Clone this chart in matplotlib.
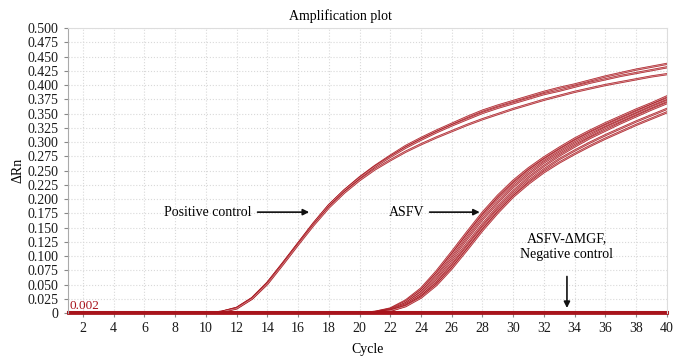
import numpy as np
import matplotlib
matplotlib.use("Agg")
import matplotlib.pyplot as plt

plt.rcParams['font.family'] = ['Liberation Serif', 'DejaVu Serif']

cycles = list(range(1, 41))

# positive control replicates (delta Rn per cycle 1..40)
pc_1 = [0, 0, 0, 0, 0, 0, 0, 0, 0, 0,
        0.002, 0.009, 0.026, 0.053, 0.087, 0.122, 0.157, 0.189, 0.215, 0.238,
        0.258, 0.276, 0.293, 0.307, 0.320, 0.332, 0.344, 0.355, 0.364, 0.372,
        0.380, 0.388, 0.395, 0.401, 0.408, 0.415, 0.421, 0.427, 0.432, 0.437]
pc_2 = [0, 0, 0, 0, 0, 0, 0, 0, 0, 0,
        0.002, 0.009, 0.026, 0.053, 0.087, 0.122, 0.157, 0.189, 0.215, 0.237,
        0.257, 0.274, 0.290, 0.304, 0.317, 0.329, 0.340, 0.351, 0.360, 0.368,
        0.376, 0.384, 0.390, 0.397, 0.404, 0.410, 0.416, 0.421, 0.426, 0.431]
pc_3 = [0, 0, 0, 0, 0, 0, 0, 0, 0, 0,
        0.002, 0.008, 0.025, 0.051, 0.085, 0.120, 0.154, 0.185, 0.211, 0.233,
        0.252, 0.268, 0.283, 0.296, 0.308, 0.319, 0.330, 0.340, 0.349, 0.358,
        0.366, 0.374, 0.381, 0.388, 0.394, 0.400, 0.405, 0.410, 0.415, 0.419]

# ASFV sample replicates
asfv_1 = [0] * 20 + [0.002, 0.008, 0.022, 0.043, 0.073, 0.107, 0.142, 0.176, 0.206, 0.232,
                     0.254, 0.273, 0.290, 0.306, 0.320, 0.333, 0.345, 0.357, 0.368, 0.380]
asfv_2 = [0] * 20 + [0.002, 0.007, 0.020, 0.040, 0.069, 0.102, 0.137, 0.171, 0.201, 0.227,
                     0.250, 0.269, 0.286, 0.302, 0.316, 0.329, 0.341, 0.353, 0.365, 0.376]
asfv_3 = [0] * 20 + [0.001, 0.006, 0.017, 0.036, 0.063, 0.095, 0.130, 0.164, 0.194, 0.221,
                     0.244, 0.264, 0.281, 0.297, 0.311, 0.325, 0.337, 0.349, 0.361, 0.372]
asfv_4 = [0] * 20 + [0.001, 0.005, 0.015, 0.032, 0.057, 0.088, 0.122, 0.156, 0.187, 0.214,
                     0.238, 0.258, 0.276, 0.292, 0.307, 0.320, 0.333, 0.345, 0.357, 0.368]
asfv_5 = [0] * 20 + [0.001, 0.004, 0.013, 0.029, 0.052, 0.082, 0.116, 0.150, 0.181, 0.208,
                     0.232, 0.252, 0.270, 0.285, 0.299, 0.312, 0.324, 0.336, 0.347, 0.358]
asfv_6 = [0] * 20 + [0.001, 0.004, 0.012, 0.027, 0.049, 0.078, 0.111, 0.145, 0.176, 0.204,
                     0.227, 0.247, 0.264, 0.279, 0.293, 0.306, 0.318, 0.330, 0.341, 0.352]

# ASFV-dMGF and negative control stay flat
neg_1 = [0] * 40

threshold = 0.002

red = '#a8141c'
fig = plt.figure(figsize=(7, 3.59), dpi=100)
ax = fig.add_axes([0.0966, 0.128, 0.856, 0.794])

for ys in [pc_1, pc_2, pc_3, asfv_1, asfv_2, asfv_3, asfv_4, asfv_5, asfv_6]:
    ax.plot(cycles, ys, color=red, lw=1.6, alpha=0.9)
    ax.plot(cycles, ys, color='white', lw=0.5, alpha=0.55)

ax.plot(cycles, neg_1, color=red, lw=2.0, clip_on=False)
ax.axhline(threshold, color=red, lw=2.2, clip_on=False)
ax.text(1.1, threshold + 0.0005, '0.002', color=red, fontsize=9.5, va='bottom', ha='left')

ax.set_xlim(1, 40)
ax.set_ylim(0, 0.5)
ax.set_xticks(range(2, 41, 2))
ax.set_yticks(np.arange(0, 0.5001, 0.025))
ax.set_yticklabels(['0'] + ['%.3f' % v for v in np.arange(0.025, 0.5001, 0.025)])
ax.tick_params(labelsize=10, colors='#888888', labelcolor='#1a1a1a', length=3, width=0.8)
ax.grid(True, color='#d9d9d9', linestyle=':', lw=0.8)
ax.set_axisbelow(True)
for s in ['top', 'right']:
    ax.spines[s].set_color('#dddddd')
ax.spines['left'].set_color('#aaaaaa')
ax.spines['bottom'].set_visible(False)

ax.set_xlabel('Cycle', fontsize=10, labelpad=6)
ax.set_ylabel('ΔRn', fontsize=10, labelpad=2)
fig.text(0.487, 0.955, 'Amplification plot', fontsize=10, ha='center', va='center')

arr = dict(arrowstyle='-|>', color='#111111', lw=1.2, mutation_scale=9)
ax.annotate('Positive control', xy=(16.9, 0.177), xytext=(13.0, 0.177),
            fontsize=10, ha='right', va='center', arrowprops=arr)
ax.annotate('ASFV', xy=(28.0, 0.177), xytext=(24.2, 0.177),
            fontsize=10, ha='right', va='center', arrowprops=arr)
ax.text(33.5, 0.117, 'ASFV-ΔMGF,\nNegative control', fontsize=10,
        ha='center', va='center', linespacing=1.3)
ax.annotate('', xy=(33.5, 0.004), xytext=(33.5, 0.069), arrowprops=arr)

fig.savefig('out.png', dpi=100)
